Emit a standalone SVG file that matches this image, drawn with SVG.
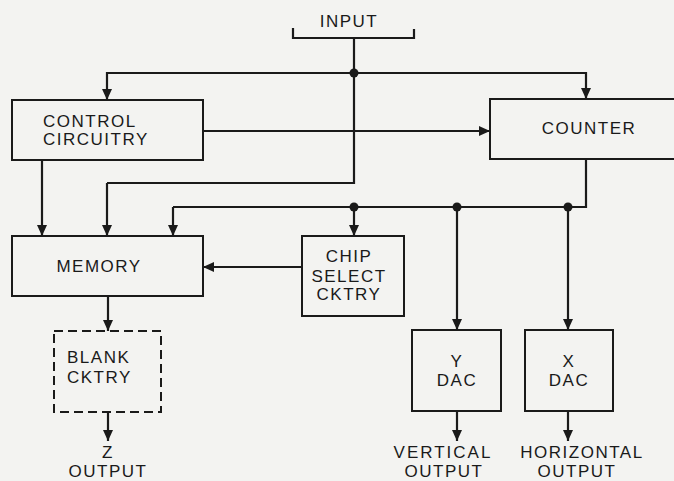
<svg xmlns="http://www.w3.org/2000/svg" width="674" height="481" viewBox="0 0 674 481">
<defs>
<marker id="ah" viewBox="0 0 11 10" refX="11" refY="5" markerWidth="11" markerHeight="10" markerUnits="userSpaceOnUse" orient="auto">
<path d="M0,0 L11,5 L0,10 Z" fill="#1a1a1a"/>
</marker>
<style>
.box{fill:none;stroke:#1a1a1a;stroke-width:2}
.dash{fill:none;stroke:#1a1a1a;stroke-width:2;stroke-dasharray:9,5}
.ln{fill:none;stroke:#1a1a1a;stroke-width:2.2}
.ar{fill:none;stroke:#1a1a1a;stroke-width:2.2;marker-end:url(#ah)}
.dot{fill:#1a1a1a}
text{font-family:"Liberation Sans",Arial,sans-serif;font-size:17px;letter-spacing:1.5px;fill:#1a1a1a}
.c{text-anchor:middle}
</style>
</defs>
<rect width="674" height="481" fill="#f3f3f1"/>

<g id="connectors">
<path class="ln" d="M293,28 V38 H414 V29"/>
<path class="ln" d="M354,38 V183 H107"/>
<path class="ar" d="M107,183 V236"/>
<path class="ar" d="M354,73 H107 V100"/>
<path class="ar" d="M354,73 H586 V99"/>
<path class="ar" d="M203,131 H490"/>
<path class="ar" d="M42,160 V236"/>
<path class="ln" d="M586,159 V207 H173"/>
<path class="ar" d="M173,207 V236"/>
<path class="ar" d="M354,207 V236"/>
<path class="ar" d="M457,207 V330"/>
<path class="ar" d="M568,207 V330"/>
<path class="ar" d="M302,267 H203"/>
<path class="ar" d="M108,296 V331"/>
<path class="ar" d="M108,412 V441"/>
<path class="ar" d="M457,411 V441"/>
<path class="ar" d="M568,411 V441"/>
<circle class="dot" cx="354" cy="73" r="4.5"/>
<circle class="dot" cx="354" cy="207" r="4.5"/>
<circle class="dot" cx="457" cy="207" r="4.5"/>
<circle class="dot" cx="568" cy="207" r="4.5"/>
</g>

<g id="input"><text x="349" y="27" class="c">INPUT</text></g>

<g id="control"><rect class="box" x="12" y="100" width="191" height="60"/>
<text x="43" y="127">CONTROL</text><text x="43" y="145">CIRCUITRY</text></g>

<g id="counter"><rect class="box" x="490" y="99" width="190" height="60"/>
<text x="589" y="134" class="c">COUNTER</text></g>

<g id="memory"><rect class="box" x="12" y="236" width="191" height="60"/>
<text x="99" y="272" class="c">MEMORY</text></g>

<g id="chipselect"><rect class="box" x="302" y="236" width="102" height="80"/>
<text x="349" y="262" class="c">CHIP</text><text x="349" y="282" class="c">SELECT</text><text x="349" y="300" class="c">CKTRY</text></g>

<g id="blank"><rect class="dash" x="54" y="331" width="107" height="81"/>
<text x="67" y="363">BLANK</text><text x="67" y="383">CKTRY</text></g>

<g id="ydac"><rect class="box" x="412" y="330" width="89" height="81"/>
<text x="457" y="367" class="c">Y</text><text x="457" y="386" class="c">DAC</text></g>

<g id="xdac"><rect class="box" x="525" y="330" width="88" height="81"/>
<text x="569" y="367" class="c">X</text><text x="569" y="386" class="c">DAC</text></g>

<g id="zout"><text x="108" y="458" class="c">Z</text><text x="108" y="477" class="c">OUTPUT</text></g>
<g id="vout"><text x="443" y="458" class="c" style="letter-spacing:2px">VERTICAL</text><text x="444" y="477" class="c">OUTPUT</text></g>
<g id="hout"><text x="582" y="458" class="c">HORIZONTAL</text><text x="577" y="477" class="c">OUTPUT</text></g>
</svg>
